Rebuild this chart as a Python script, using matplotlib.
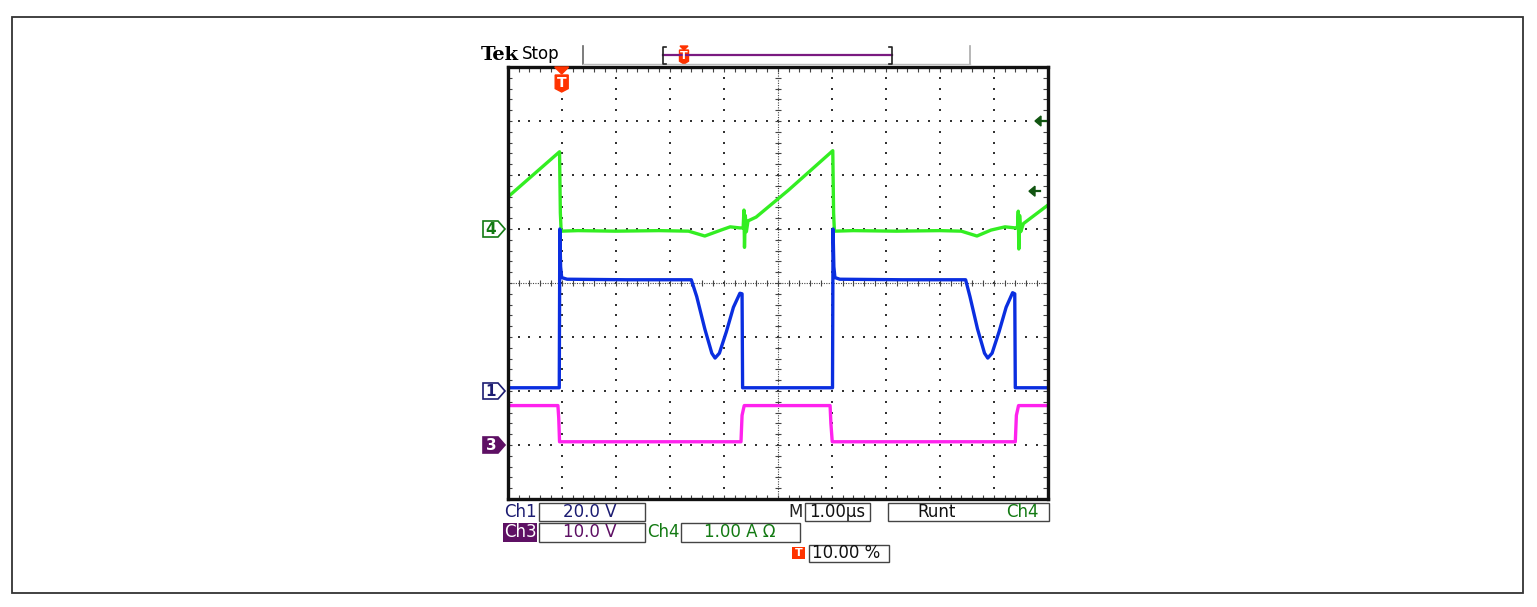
import numpy as np
import matplotlib.pyplot as plt
from matplotlib.patches import Polygon, Rectangle
from matplotlib.collections import LineCollection

W, H = 1537, 607

# traces, x in divisions (1.00 us/div), y in divisions from screen centre
ch4_x = [0, 0.96, 0.975, 0.99, 1.3, 2.0, 2.8, 3.35, 3.65, 3.95, 4.12, 4.30, 4.36, 4.375, 4.385,
         4.40, 4.42, 4.45, 4.6, 5.2, 6.02, 6.035, 6.05, 6.4, 7.2, 8.0, 8.40, 8.69, 8.95, 9.21,
         9.40, 9.44, 9.455, 9.465, 9.48, 9.50, 9.55, 10.0]
ch4_y = [1.59, 2.43, 1.30, 0.96, 0.97, 0.96, 0.97, 0.96, 0.87, 0.98, 1.04, 1.02, 1.02, 1.35, 0.66,
         1.25, 0.95, 1.15, 1.22, 1.72, 2.45, 1.30, 0.96, 0.97, 0.96, 0.97, 0.96, 0.87, 0.98, 1.04,
         1.02, 1.02, 1.33, 0.63, 1.25, 0.95, 1.10, 1.44]

ch1_x = [0, 0.955, 0.965, 0.98, 1.0, 1.1, 2.2, 3.40, 3.50, 3.65, 3.78, 3.84, 3.92, 4.05, 4.18,
         4.30, 4.34, 4.35, 5.2, 6.015, 6.025, 6.04, 6.06, 6.15, 7.3, 8.48, 8.56, 8.70, 8.83,
         8.89, 8.97, 9.10, 9.23, 9.35, 9.39, 9.40, 10.0]
ch1_y = [-1.94, -1.94, 1.0, 0.3, 0.1, 0.07, 0.06, 0.06, -0.25, -0.85, -1.30, -1.39, -1.30, -0.90,
         -0.45, -0.19, -0.20, -1.94, -1.94, -1.94, 1.0, 0.3, 0.1, 0.07, 0.06, 0.06, -0.25, -0.85,
         -1.30, -1.39, -1.30, -0.90, -0.45, -0.18, -0.20, -1.94, -1.94]

ch3_x = [0, 0.93, 0.945, 0.96, 2.5, 4.32, 4.34, 4.38, 5.2, 5.97, 5.985, 6.01, 7.7, 9.40, 9.42,
         9.46, 10.0]
ch3_y = [-2.27, -2.27, -2.50, -2.94, -2.94, -2.94, -2.45, -2.27, -2.27, -2.27, -2.60, -2.94,
         -2.94, -2.94, -2.45, -2.27, -2.27]

ch_labels = ['4', '1', '3']
ch_levels = [1, -2, -3]
trig_levels = [3.0, 1.7]
trig_pos = 1.0

c_green = '#33ee22'
c_blue = '#0a2ee0'
c_mag = '#ff22ee'
c_navy = '#1c1c72'
c_purple = '#5e1064'
c_dgreen = '#137a13'
c_red = '#ff3300'


def fp(x, y):
    return x / W, 1 - y / H


fig = plt.figure(figsize=(W / 100, H / 100), dpi=100)
fig.patches.append(Rectangle(fp(12, 593), 1511 / W, 576 / H, transform=fig.transFigure,
                             fill=False, edgecolor='#333333', linewidth=1.3))

ax = fig.add_axes([507.7 / W, 1 - 499 / H, 540 / W, 432 / H])
ax.set_xlim(0, 10)
ax.set_ylim(-4, 4)
ax.set_xticks([])
ax.set_yticks([])
for s in ax.spines.values():
    s.set_linewidth(2.4)
    s.set_color('#111111')

# graticule
step = np.arange(0, 10.01, 0.2)
vstep = np.arange(-4, 4.01, 0.2)
for gx in range(1, 10):
    if gx != 5:
        ax.plot(np.full_like(vstep, gx), vstep, ls='none', marker='s', ms=1.6, mew=0,
                color='#333333')
for gy in range(-3, 4):
    if gy != 0:
        ax.plot(step, np.full_like(step, gy), ls='none', marker='s', ms=1.6, mew=0,
                color='#333333')
ax.axvline(5, color='#444444', lw=0.8, ls=(0, (1, 1.2)))
ax.axhline(0, color='#444444', lw=0.8, ls=(0, (1, 1.2)))
tx, ty = 3 / 54, 3 / 54
segs = []
for v in step:
    segs += [[(v, -ty), (v, ty)], [(v, 4), (v, 4 - 1.5 * ty)], [(v, -4), (v, -4 + 1.5 * ty)]]
for v in vstep:
    segs += [[(5 - tx, v), (5 + tx, v)], [(0, v), (1.5 * tx, v)], [(10, v), (10 - 1.5 * tx, v)]]
ax.add_collection(LineCollection(segs, colors='#444444', linewidths=0.8))

# traces
ax.plot(ch4_x, ch4_y, color=c_green, lw=2.4, solid_joinstyle='round')
ax.plot(ch1_x, ch1_y, color=c_blue, lw=2.4, solid_joinstyle='round')
ax.plot(ch3_x, ch3_y, color=c_mag, lw=2.4, solid_joinstyle='round')

# channel ground markers
styles = {'4': ('white', c_dgreen, c_dgreen), '1': ('white', c_navy, c_navy),
          '3': (c_purple, c_purple, 'white')}
for lab, lev in zip(ch_labels, ch_levels):
    py = 283 - 54 * lev
    face, edge, tc = styles[lab]
    pts = [fp(483, py - 8), fp(498, py - 8), fp(505, py), fp(498, py + 8), fp(483, py + 8)]
    fig.patches.append(Polygon(pts, closed=True, transform=fig.transFigure,
                               facecolor=face, edgecolor=edge, linewidth=1.2))
    fig.text(*fp(491, py + 1), lab, color=tc, fontsize=11, fontweight='bold',
             ha='center', va='center')

# trigger level arrows (pointing left, at the right edge)
for i, lev in enumerate(trig_levels):
    py = 283 - 54 * lev
    tip = 1035 - 6 * i
    fig.patches.append(Polygon([fp(tip, py), fp(tip + 6, py - 5), fp(tip + 6, py + 5)],
                               closed=True, transform=fig.transFigure,
                               facecolor='#115511', edgecolor='#115511'))
    fig.lines.append(plt.Line2D([(tip + 5) / W, (tip + 11) / W], [1 - py / H, 1 - py / H],
                                color='#115511', lw=1.6, transform=fig.transFigure))


def shield(cx, top, w, h, fs):
    pts = [fp(cx - w / 2, top), fp(cx + w / 2, top), fp(cx + w / 2, top + 0.8 * h),
           fp(cx, top + h), fp(cx - w / 2, top + 0.8 * h)]
    fig.patches.append(Polygon(pts, closed=True, transform=fig.transFigure,
                               facecolor=c_red, edgecolor=c_red))
    fig.text(*fp(cx, top + 0.45 * h), 'T', color='white', fontsize=fs, fontweight='bold',
             ha='center', va='center')


# trigger position marker
tpx = 507.7 + 54 * trig_pos
fig.patches.append(Polygon([fp(tpx - 7, 67), fp(tpx + 7, 67), fp(tpx, 74)], closed=True,
                           transform=fig.transFigure, facecolor=c_red, edgecolor=c_red))
shield(tpx, 75, 13, 17, 10)

# top status bar
fig.text(*fp(481, 55), 'Tek', fontsize=14, fontweight='bold', family='DejaVu Serif',
         va='center', ha='left')
fig.text(*fp(522, 54), 'Stop', fontsize=12, va='center', ha='left')
fig.lines.append(plt.Line2D([583 / W, 583 / W], [1 - 46 / H, 1 - 64 / H], color='#666666',
                            lw=1.2, transform=fig.transFigure))
fig.lines.append(plt.Line2D([970 / W, 970 / W], [1 - 46 / H, 1 - 64 / H], color='#aaaaaa',
                            lw=1.2, transform=fig.transFigure))
fig.lines.append(plt.Line2D([583 / W, 970 / W], [1 - 64 / H, 1 - 64 / H], color='#bbbbbb',
                            lw=1.0, transform=fig.transFigure))
fig.lines.append(plt.Line2D([663 / W, 892 / W], [1 - 55 / H, 1 - 55 / H], color='#7a1a80',
                            lw=1.6, transform=fig.transFigure))
for bx, d in [(663, 1), (892, -1)]:
    fig.lines.append(plt.Line2D([(bx + 3 * d) / W, bx / W, bx / W, (bx + 3 * d) / W],
                                [1 - 47 / H, 1 - 47 / H, 1 - 64 / H, 1 - 64 / H],
                                color='#222222', lw=1.2, transform=fig.transFigure))
fig.patches.append(Polygon([fp(680, 46), fp(688, 46), fp(684, 50)], closed=True,
                           transform=fig.transFigure, facecolor=c_red, edgecolor=c_red))
shield(684, 50, 9, 14, 8)


# readouts
def box(x0, y0, x1, y1):
    fig.patches.append(Rectangle(fp(x0, y1), (x1 - x0) / W, (y1 - y0) / H,
                                 transform=fig.transFigure, fill=False,
                                 edgecolor='#444444', linewidth=1.0))


fs = 12
fig.text(*fp(504, 512), 'Ch1', color=c_navy, fontsize=fs, va='center', ha='left')
box(539, 503, 645, 521)
fig.text(*fp(590, 512), '20.0 V', color=c_navy, fontsize=fs, va='center', ha='center')

fig.patches.append(Rectangle(fp(503, 542), 34 / W, 19 / H, transform=fig.transFigure,
                             facecolor=c_purple, edgecolor='none'))
fig.text(*fp(520, 532), 'Ch3', color='white', fontsize=fs, va='center', ha='center')
box(539, 523, 645, 542)
fig.text(*fp(590, 532), '10.0 V', color=c_purple, fontsize=fs, va='center', ha='center')

fig.text(*fp(647, 532), 'Ch4', color=c_dgreen, fontsize=fs, va='center', ha='left')
box(681, 523, 800, 542)
fig.text(*fp(740, 532), '1.00 A \u03a9', color=c_dgreen, fontsize=fs, va='center',
         ha='center')

fig.text(*fp(788, 512), 'M', color='#222222', fontsize=fs, va='center', ha='left')
box(805, 503, 870, 521)
fig.text(*fp(837, 512), '1.00\u00b5s', color='#111111', fontsize=fs, va='center',
         ha='center')

box(888, 503, 1049, 521)
fig.text(*fp(937, 512), 'Runt', color='#111111', fontsize=fs, va='center', ha='center')
fig.text(*fp(1022, 512), 'Ch4', color=c_dgreen, fontsize=fs, va='center', ha='center')

fig.patches.append(Rectangle(fp(792, 559), 13 / W, 12 / H, transform=fig.transFigure,
                             facecolor=c_red, edgecolor='none'))
fig.text(*fp(798.5, 553), 'T', color='white', fontsize=8, fontweight='bold',
         va='center', ha='center')
box(809, 545, 889, 562)
fig.text(*fp(846, 553), '10.00 %', color='#111111', fontsize=fs, va='center', ha='center')

fig.savefig('out.png', dpi=100)
